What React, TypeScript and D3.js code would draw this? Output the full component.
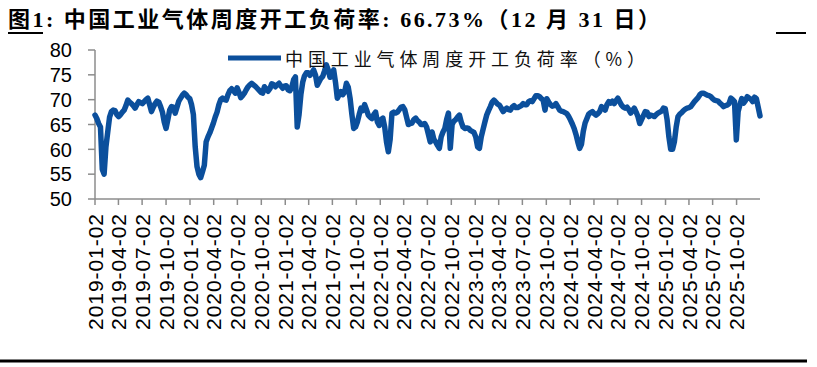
import * as d3 from "d3"

// weekly series, first value on 2019-01-02
const startDate = "2019-01-02"
const endDate = "2025-12-31"

const rate = [
  66.9, 66.2, 65.2, 64.5, 56, 55, 60.5, 63.5, 66.5, 67.6,
  67.9, 67.8, 67, 66.6, 67, 67.5, 67.9, 68.8, 69.9, 69.5,
  69.2, 68.8, 68.3, 69, 69.6, 69.4, 69.2, 69.6, 70, 70.3,
  69, 67.6, 68.5, 69.2, 69.7, 69.5, 68.6, 67.5, 65.5, 64.2,
  66, 67.9, 68.6, 68.5, 67.3, 68.5, 69.7, 70.3, 70.9, 71.3,
  71, 70.5, 70.2, 69, 67, 60.5, 56.5, 55, 54.3, 55.5,
  56.8, 61.5, 62.5, 63.3, 64.3, 65.3, 66.5, 67.5, 69, 70,
  70.3, 70, 69.9, 71, 71.8, 72.2, 71.8, 71.3, 72.4, 71.5,
  70.4, 70.8, 71.3, 72, 72.6, 73, 73.3, 73, 72.7, 72.3,
  71.9, 71.5, 71.3, 72.6, 72.2, 71.7, 72.2, 73.2, 73, 72.6,
  73, 73.3, 72.8, 72.3, 72.7, 72.8, 72, 71.8, 72.5, 74,
  74.6, 64.5, 67, 71, 73.5, 74.8, 75.4, 75.4, 74.9, 75.4,
  76, 75, 72.9, 73.6, 74.3, 74.7, 75.8, 77, 76, 74.5,
  75, 76, 73.5, 70.3, 71, 71.6, 71, 71.5, 73.3, 72.5,
  70.3, 67, 64.2, 64.5, 65.5, 67, 68.3, 67.8, 69, 68,
  66.9, 66.5, 66.2, 67, 67.5, 65.5, 64.8, 66, 66.3, 64.5,
  61.5, 59.5, 62, 67.3, 67.5, 67.3, 67.5, 68, 68.5, 68.6,
  68, 66.5, 65, 65.2, 65.3, 66, 66.3, 65.8, 65.5, 65,
  65, 65.2, 64.5, 63, 61.5, 63.5, 62, 61.5, 60.8, 60.2,
  62.5, 63.5, 64.2, 66, 67.3, 60.2, 65, 65.7, 66, 66.5,
  66.9, 65.5, 64.5, 64.2, 64.3, 64.2, 63.8, 63.6, 63.4, 62.5,
  60.5, 60.2, 62.5, 64, 65.5, 66.9, 67.8, 68.6, 69.5, 69.9,
  69.5, 69.1, 68.9, 68.3, 67.6, 68, 68.3, 68, 67.9, 68.5,
  68.8, 68.4, 68.4, 68.6, 68.8, 69.2, 69, 69, 69.6, 69.8,
  69.6, 70.2, 70.8, 70.8, 70.6, 70.2, 69.9, 67.9, 70.2, 69.5,
  69, 68.7, 68.8, 69.2, 68.6, 67.9, 67.7, 67.6, 67.4, 67.2,
  66.6, 65.9, 65.1, 64.2, 63, 61.5, 60.2, 61, 63.6, 65.3,
  66.2, 67.1, 67.4, 67.6, 67.2, 66.9, 67.2, 67.6, 68.6, 68.3,
  67.9, 69, 69.6, 69.3, 69.7, 69.2, 69.8, 70.3, 69.6, 68.9,
  68.5, 68.3, 68.5, 68, 67.3, 67.8, 68.3, 67.5, 66.6, 65.2,
  66, 66.8, 67.6, 67.5, 66.6, 66.9, 66.8, 66.6, 67, 67.3,
  67.5, 67.7, 68.3, 68.2, 66, 62.5, 60, 60, 61.5, 64.5,
  66.6, 67.1, 67.4, 67.8, 68.1, 68.3, 68.4, 68.6, 69.1, 69.6,
  70, 70.4, 71, 71.3, 71.3, 71.1, 70.9, 70.8, 70.6, 70.2,
  69.9, 69.8, 69.7, 69.3, 69, 68.6, 68.8, 68.9, 69.2, 70.3,
  70, 69.6, 61.9, 67.6, 69, 70.2, 69.3, 69.8, 70.6, 70.3,
  70.1, 69.6, 70.5, 70.2, 68.5, 66.73,
]

const xTickLabels = [
  "2019-01-02", "2019-04-02", "2019-07-02", "2019-10-02",
  "2020-01-02", "2020-04-02", "2020-07-02", "2020-10-02",
  "2021-01-02", "2021-04-02", "2021-07-02", "2021-10-02",
  "2022-01-02", "2022-04-02", "2022-07-02", "2022-10-02",
  "2023-01-02", "2023-04-02", "2023-07-02", "2023-10-02",
  "2024-01-02", "2024-04-02", "2024-07-02", "2024-10-02",
  "2025-01-02", "2025-04-02", "2025-07-02", "2025-10-02",
]

const yTicks = [50, 55, 60, 65, 70, 75, 80]

const title = "图1: 中国工业气体周度开工负荷率: 66.73%（12 月 31 日）"
const seriesName = "中国工业气体周度开工负荷率（%）"

const W = 817
const H = 367
const lineColor = "#0B4F9C"
const axisColor = "#8C8C8C"

export default function App() {
  const parse = d3.timeParse("%Y-%m-%d")
  const start = parse(startDate)!
  const end = parse(endDate)!

  const x = d3.scaleTime().domain([start, end]).range([95, 760])
  const y = d3.scaleLinear().domain([50, 80]).range([199, 50])

  const points = rate.map((v, i) => ({ date: d3.timeDay.offset(start, 7 * i), value: v }))

  const line = d3
    .line<{ date: Date; value: number }>()
    .x((d) => x(d.date))
    .y((d) => y(d.value))

  const x0 = x.range()[0]
  const x1 = x.range()[1]
  const yBottom = y(50)

  return (
    <svg
      width={W}
      height={H}
      style={{ position: "absolute", left: 0, top: 0, background: "#fff" }}
      fontFamily="'Liberation Sans', Arial, sans-serif"
    >
      {/* title */}
      <text
        x={8}
        y={27}
        fontSize={22}
        fontWeight="bold"
        fontFamily="'Liberation Serif', 'Noto Sans CJK SC', serif"
        textLength={652}
        lengthAdjust="spacing"
        fill="#000"
      >
        {title}
      </text>
      <line x1={8} x2={43} y1={33} y2={33} stroke="#000" strokeWidth={2} />
      <line x1={776} x2={806} y1={33} y2={33} stroke="#000" strokeWidth={2} />

      {/* y axis */}
      <line x1={x0} x2={x0} y1={y(80)} y2={yBottom} stroke={axisColor} strokeWidth={1.5} />
      {yTicks.map((t) => (
        <g key={t}>
          <line x1={x0 - 7} x2={x0} y1={y(t)} y2={y(t)} stroke={axisColor} strokeWidth={1.5} />
          <text x={72} y={y(t)} dy="0.36em" textAnchor="end" fontSize={20} fill="#000">
            {t}
          </text>
        </g>
      ))}

      {/* x axis */}
      <line x1={x0} x2={x1} y1={yBottom} y2={yBottom} stroke={axisColor} strokeWidth={1.5} />
      {xTickLabels.map((lab) => {
        const tx = x(parse(lab)!)
        return (
          <g key={lab}>
            <line x1={tx} x2={tx} y1={yBottom} y2={yBottom + 6} stroke={axisColor} strokeWidth={1.5} />
            <text
              transform={`translate(${tx},214) rotate(-90)`}
              dy="0.36em"
              textAnchor="end"
              fontSize={21}
              textLength={116}
              lengthAdjust="spacing"
              fill="#000"
            >
              {lab}
            </text>
          </g>
        )
      })}

      {/* series */}
      <path
        d={line(points) ?? ""}
        fill="none"
        stroke={lineColor}
        strokeWidth={5.5}
        strokeLinejoin="round"
        strokeLinecap="round"
      />

      {/* legend */}
      <line x1={228} x2={281} y1={58} y2={58} stroke={lineColor} strokeWidth={5} />
      <text
        x={285}
        y={66}
        fontSize={18}
        fontFamily="'Noto Sans CJK SC', sans-serif"
        textLength={360}
        lengthAdjust="spacing"
        fill="#111"
      >
        {seriesName}
      </text>

      {/* footer rule */}
      <line x1={0} x2={807} y1={361} y2={361} stroke="#000" strokeWidth={3} />
    </svg>
  )
}
